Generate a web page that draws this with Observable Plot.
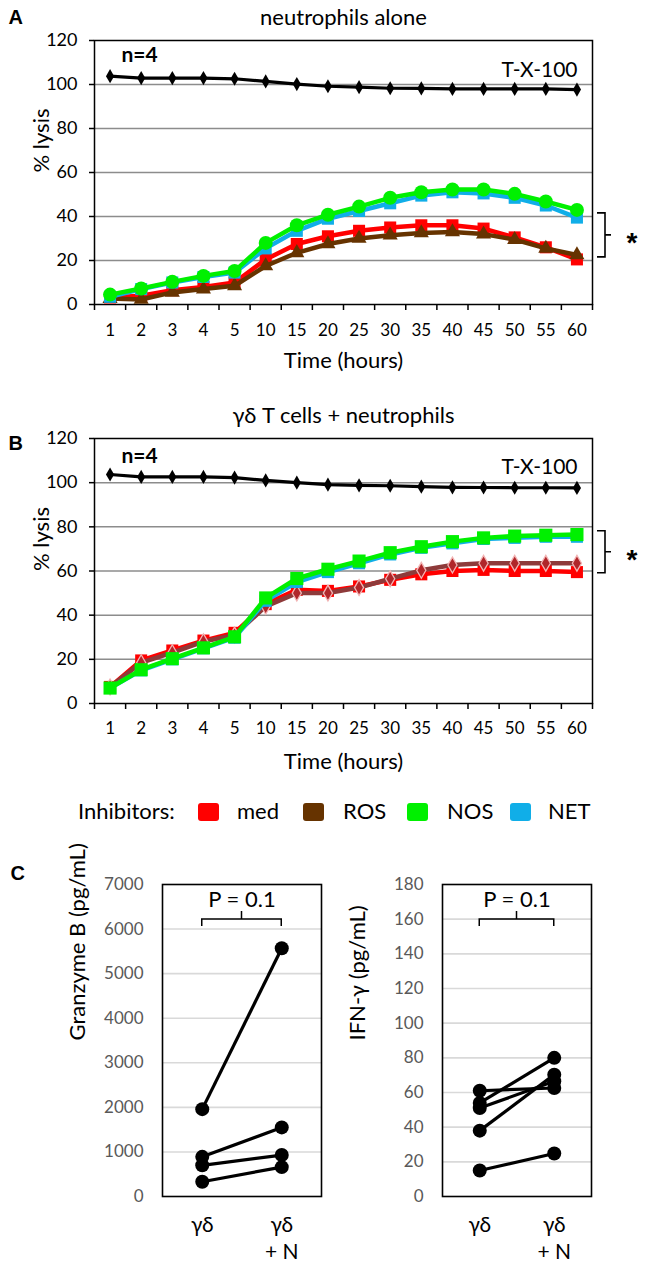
<!DOCTYPE html>
<html><head><meta charset="utf-8">
<script src="https://cdn.jsdelivr.net/npm/d3@7"></script>
<script src="https://cdn.jsdelivr.net/npm/@observablehq/plot@0.6"></script>
<style>
html,body{margin:0;padding:0;background:#fff;}
#root{position:relative;width:655px;height:1265px;overflow:hidden;background:#fff;font-family:Lato,"Open Sans",sans-serif;}
#root svg{position:absolute;overflow:visible;background:transparent;}
.leg{position:absolute;font-size:22px;color:#000;line-height:22px;white-space:nowrap;}
.sw{position:absolute;width:21px;height:18px;border-radius:3px;}
</style></head><body><div id="root"></div>
<script>
// ---------- data ----------
const hours = ["1","2","3","4","5","10","15","20","25","30","35","40","45","50","55","60"];
const lysisTicks = [0,20,40,60,80,100,120];
const inhibitors = ["med","ROS","NOS","NET"];
const inhibitorColors = ["#ff0000","#663300","#00f000","#10aee8"];

// Panel A: neutrophils alone
const aTX  = [103.8,102.9,102.9,102.9,102.6,101.4,100.2,99.2,98.8,98.3,98.2,98.0,98.0,98.0,98.0,97.7];
const aMed = [3.2,4.0,6.5,8.0,10.0,20.5,27.5,31.0,33.5,35.0,36.0,36.0,34.5,30.5,26.0,20.5];
const aROS = [2.7,2.3,5.5,7.0,8.5,17.5,23.5,27.5,30.0,31.5,32.5,33.0,32.0,29.5,25.5,22.5];
const aNOS = [4.5,7.3,10.3,13.0,15.2,28.0,36.0,40.8,44.5,48.5,51.0,52.3,52.3,50.3,46.8,43.0];
const aNET = [3.5,7.0,10.0,12.5,14.5,25.5,33.5,39.0,42.5,46.0,49.5,51.0,50.5,48.5,45.0,39.5];
const sigA = [21.4, 41.4];

// Panel B: γδ T cells + neutrophils
const bTX  = [103.7,102.6,102.6,102.6,102.3,101.0,100.0,99.1,98.8,98.6,98.2,97.9,97.8,97.7,97.7,97.6];
const bMed = [7.5,19.5,24.0,28.5,32.0,45.0,51.5,51.0,53.0,56.0,58.5,60.0,60.5,60.0,60.0,59.5];
const bROS = [7.5,18.5,23.0,28.0,31.0,44.0,50.0,50.0,52.5,56.5,60.3,62.7,63.5,63.5,63.5,63.5];
const bNOS = [7.0,15.3,20.3,25.2,30.2,47.8,56.6,60.8,64.5,68.3,71.0,73.3,75.0,75.8,76.2,76.5];
const bNET = [7.0,15.0,20.0,25.0,29.8,46.5,55.0,59.5,63.5,67.5,70.5,72.5,74.5,75.0,75.5,75.5];
const sigB = [59, 78];

// Panel C
const cCategories = ["γδ", "γδ\n+ N"];
const gzmTicks = [0,1000,2000,3000,4000,5000,6000,7000];
const gzmGD  = [1960, 890, 700, 330];
const gzmGDN = [5570, 1550, 930, 660];
const ifnTicks = [0,20,40,60,80,100,120,140,160,180];
const ifnGD  = [61, 54, 51, 38, 15];
const ifnGDN = [62.6, 80, 66.5, 70.3, 24.8];
const pText = "P = 0.1";

// ---------- helpers ----------
const FONT = "Lato, 'Open Sans', sans-serif";
const root = document.getElementById("root");
function place(node, left, top) {
  node.style.left = left + "px"; node.style.top = top + "px";
  root.appendChild(node);
  return node;
}

function sigBrace(range) {
  return (index, scales, values, dims) => {
    const xr = dims.width - dims.marginRight;
    const y1 = scales.y(range[1]), y2 = scales.y(range[0]), ym = (y1 + y2) / 2;
    const g = d3.create("svg:g");
    g.append("path")
      .attr("d", `M${xr+5},${y1}H${xr+13}V${y2}H${xr+5}M${xr+13},${ym}H${xr+19}`)
      .attr("fill", "none").attr("stroke", "#000").attr("stroke-width", 1.6);
    g.append("text").attr("x", xr + 40).attr("y", ym).attr("dy", "0.62em")
      .attr("text-anchor", "middle").attr("font-family", "Liberation Sans, Arial")
      .attr("font-weight", "bold").attr("font-size", 28).text("*");
    return g.node();
  };
}

function pBrace(offsetTop) {
  return (index, scales, values, dims) => {
    const x0 = scales.x(0), x1 = scales.x(1), xm = (x0 + x1) / 2;
    const y = dims.marginTop + offsetTop;
    const g = d3.create("svg:g");
    g.append("path")
      .attr("d", `M${x0},${y+7}V${y}H${x1}V${y+7}M${xm},${y}V${y-8}`)
      .attr("fill", "none").attr("stroke", "#000").attr("stroke-width", 1.5);
    return g.node();
  };
}

const mid = {lineAnchor: "middle"};

function lysisPlot(cfg) {
  const {height, mTop, mBottom} = cfg;
  const marks = [
    Plot.gridY(lysisTicks.filter(t => t > 0 && t < 120), {stroke: "#8c8c8c", strokeOpacity: 1, strokeWidth: 1.5}),
    Plot.frame({stroke: "#000", strokeWidth: 1.5}),
    Plot.axisY(lysisTicks, {tickSize: 5, tickPadding: 12, fontSize: 18, strokeWidth: 1.5, label: null}),
    Plot.axisX(d3.range(hours.length + 1).map(i => i - 0.5), {tickSize: 6, tickFormat: () => "", strokeWidth: 1.5, label: null}),
    Plot.axisX(d3.range(hours.length), {tickSize: 0, tickPadding: cfg.tickPad, tickFormat: i => hours[i], fontSize: 17, label: null})
  ];
  cfg.order.forEach(k => {
    const s = cfg.styles[k];
    const data = cfg.series[k].map((v, i) => ({i, v}));
    marks.push(Plot.line(data, {x: "i", y: "v", stroke: s.line, strokeWidth: s.lw}));
    marks.push(Plot.dot(data, {x: "i", y: "v", symbol: s.symbol, r: s.r, fill: s.fill, stroke: s.stroke || "none", strokeWidth: s.sw || 0}));
  });
  const tx = cfg.tx.map((v, i) => ({i, v}));
  marks.push(Plot.line(tx, {x: "i", y: "v", stroke: "#000", strokeWidth: 3.2}));
  marks.push(Plot.dot(tx, {x: "i", y: "v", symbol: "diamond", r: 4.3, fill: "#000"}));
  marks.push(
    Plot.text([cfg.title], {...mid, frameAnchor: "top", dy: cfg.titleY - mTop, fontSize: 22}),
    Plot.text([cfg.letter], {...mid, frameAnchor: "top-left", textAnchor: "start", dx: 8 - 94, dy: cfg.letterY - mTop, fontSize: 20, fontWeight: "bold", fontFamily: "Liberation Sans, Arial"}),
    Plot.text(["n=4"], {...mid, frameAnchor: "top-left", textAnchor: "start", dx: 27, dy: cfg.nY - mTop, fontSize: 21, fontWeight: "bold"}),
    Plot.text(["T-X-100"], {...mid, frameAnchor: "top-right", textAnchor: "end", dx: -15, dy: cfg.txY - mTop, fontSize: 21}),
    Plot.text(["% lysis"], {...mid, frameAnchor: "left", rotate: -90, dx: -53, fontSize: 22}),
    Plot.text(["Time (hours)"], {...mid, frameAnchor: "bottom", dy: cfg.timeDy, fontSize: 22}),
    sigBrace(cfg.sig)
  );
  return Plot.plot({
    width: 655, height, marginLeft: 94, marginRight: 63, marginTop: mTop, marginBottom: mBottom,
    style: {fontFamily: FONT, fontSize: "17px", background: "transparent", overflow: "visible"},
    x: {domain: [-0.5, hours.length - 0.5]},
    y: {domain: [0, 120]},
    marks
  });
}

const stylesA = {
  med: {line: inhibitorColors[0], lw: 4.5, symbol: "square", r: 6.8, fill: inhibitorColors[0]},
  ROS: {line: inhibitorColors[1], lw: 4.5, symbol: "triangle", r: 5.6, fill: inhibitorColors[1]},
  NOS: {line: inhibitorColors[2], lw: 4.5, symbol: "circle", r: 7, fill: inhibitorColors[2]},
  NET: {line: inhibitorColors[3], lw: 4.5, symbol: "square", r: 6.8, fill: inhibitorColors[3]}
};
const stylesB = {
  med: {line: inhibitorColors[0], lw: 4.5, symbol: "square", r: 6.8, fill: inhibitorColors[0]},
  ROS: {line: "#8e3a3a", lw: 4.5, symbol: "diamond", r: 4.8, fill: "#b0262a", stroke: "#f2b5b5", sw: 1.3},
  NOS: {line: inhibitorColors[2], lw: 4.5, symbol: "square", r: 7.4, fill: inhibitorColors[2]},
  NET: {line: inhibitorColors[3], lw: 4.5, symbol: "square", r: 6.8, fill: inhibitorColors[3]}
};

// positions of panel texts are relative to each SVG's top edge
place(lysisPlot({
  height: 380, mTop: 40, mBottom: 76, tickPad: 19, timeDy: 56,
  title: "neutrophils alone", titleY: 17, letter: "A", letterY: 17, nY: 55, txY: 70,
  series: {med: aMed, ROS: aROS, NOS: aNOS, NET: aNET}, order: ["med","ROS","NET","NOS"],
  styles: stylesA, tx: aTX, sig: sigA
}), 0, 0);

place(lysisPlot({
  height: 400, mTop: 58, mBottom: 77, tickPad: 18, timeDy: 58,
  title: "γδ T cells + neutrophils", titleY: 35, letter: "B", letterY: 63, nY: 76, txY: 87,
  series: {med: bMed, ROS: bROS, NOS: bNOS, NET: bNET}, order: ["med","ROS","NET","NOS"],
  styles: stylesB, tx: bTX, sig: sigB
}), 0, 380);

// ---------- legend ----------
const legSwatchLeft = [198, 303, 407, 510];
const legLabelLeft = [237, 343, 447, 548];
const legTop = 800;
{
  const t = document.createElement("div");
  t.className = "leg"; t.textContent = "Inhibitors:";
  place(t, 78, legTop);
  inhibitors.forEach((name, k) => {
    const sw = document.createElement("div");
    sw.className = "sw"; sw.style.background = inhibitorColors[k];
    place(sw, legSwatchLeft[k], legTop + 3);
    const lb = document.createElement("div");
    lb.className = "leg"; lb.textContent = name;
    place(lb, legLabelLeft[k], legTop);
  });
}

// ---------- panel C ----------
function pairPlot(cfg) {
  const pairs = cfg.a.map((v, k) => ({a: v, b: cfg.b[k]}));
  const pts = [...cfg.a.map(v => ({x: 0, v})), ...cfg.b.map(v => ({x: 1, v}))];
  const top = cfg.ticks[cfg.ticks.length - 1];
  const marks = [
    Plot.gridY(cfg.ticks.filter(t => t > 0 && t < top), {stroke: "#d9d9d9", strokeOpacity: 1, strokeWidth: 1.6}),
    Plot.frame({stroke: "#000", strokeWidth: 1.6}),
    Plot.axisY(cfg.ticks, {tickSize: 0, tickPadding: 19, fontSize: 17, fill: "#595959", tickFormat: d3.format("d"), label: null}),
    Plot.axisX([0, 1], {tickSize: 0, tickPadding: 16, tickFormat: i => cCategories[i], fontSize: 21, lineHeight: 1.3, label: null}),
    Plot.link(pairs, {x1: () => 0, x2: () => 1, y1: "a", y2: "b", stroke: "#000", strokeWidth: 3.2}),
    Plot.dot(pts, {x: "x", y: "v", r: 7, fill: "#000"}),
    Plot.text([pText], {...mid, frameAnchor: "top", dy: 15, fontSize: 22}),
    pBrace(35),
    Plot.text([cfg.ylabel], {...mid, frameAnchor: "left", rotate: -90, dx: -85, fontSize: 22})
  ];
  if (cfg.letter) marks.push(Plot.text([cfg.letter], {...mid, frameAnchor: "top-left", textAnchor: "start", dx: 10 - cfg.mLeft, dy: -11, fontSize: 20, fontWeight: "bold", fontFamily: "Liberation Sans, Arial"}));
  return Plot.plot({
    width: cfg.width, height: 405, marginLeft: cfg.mLeft, marginRight: cfg.mRight, marginTop: 24, marginBottom: 69,
    style: {fontFamily: FONT, fontSize: "17px", background: "transparent", overflow: "visible"},
    x: {domain: [-0.5, 1.5]},
    y: {domain: [0, top]},
    marks
  });
}

place(pairPlot({width: 330, mLeft: 162, mRight: 9, ticks: gzmTicks, a: gzmGD, b: gzmGDN, ylabel: "Granzyme B (pg/mL)", letter: "C"}), 0, 860);
place(pairPlot({width: 325, mLeft: 112, mRight: 64, ticks: ifnTicks, a: ifnGD, b: ifnGDN, ylabel: "IFN-γ (pg/mL)"}), 330, 860);
</script>
</body></html>
